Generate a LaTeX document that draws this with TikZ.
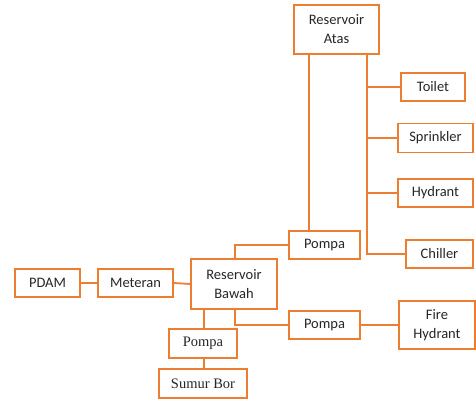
\documentclass[tikz,border=0pt]{standalone}
\usepackage{fontspec}
\setmainfont{Carlito}
\newfontfamily\serifb{Liberation Serif}
\definecolor{org}{HTML}{ED7D31}
\definecolor{txt}{HTML}{262626}
\begin{document}
\begin{tikzpicture}[x=1pt,y=-1pt,
  box/.style={draw=org,line width=1.8pt,fill=white,inner sep=0pt,align=center,text=txt,
    font=\fontsize{14.5}{19}\selectfont},
  sbox/.style={box,font=\serifb\fontsize{14.5}{19}\selectfont},
  conn/.style={draw=org,line width=1.8pt}]
\useasboundingbox (0,0) rectangle (476,401);
\node[box,minimum width=85pt,minimum height=49pt] (atas) at (336.5,29.5) {Reservoir\\Atas};
\node[box,minimum width=64pt,minimum height=28pt] (toilet) at (433,87) {Toilet};
\node[box,minimum width=75pt,minimum height=29pt] (spr) at (435.5,138) {Sprinkler};
\node[box,minimum width=75pt,minimum height=28pt] (hyd) at (435.5,193) {Hydrant};
\node[box,minimum width=67pt,minimum height=28pt] (chil) at (439.5,254) {Chiller};
\node[box,minimum width=71pt,minimum height=28pt] (p1) at (324.5,245) {Pompa};
\node[box,minimum width=65pt,minimum height=28pt] (pdam) at (47.5,283) {PDAM};
\node[box,minimum width=75pt,minimum height=28pt] (met) at (135.5,283) {Meteran};
\node[box,minimum width=86pt,minimum height=50pt] (bawah) at (234,284) {Reservoir\\Bawah};
\node[box,minimum width=71pt,minimum height=28pt] (p2) at (324.5,325) {Pompa};
\node[box,minimum width=76pt,minimum height=48pt] (fire) at (437,325) {Fire\\Hydrant};
\node[sbox,minimum width=68pt,minimum height=29pt] (p3) at (203,343.5) {Pompa};
\node[sbox,minimum width=88pt,minimum height=29pt] (sumur) at (203,383.5) {Sumur Bor};
\coordinate (xa) at (309,0);
\coordinate (xb) at (367,0);
\coordinate (xc) at (235,0);
\coordinate (xd) at (204,0);
\draw[conn] (atas.south -| xa) -- (p1.north -| xa);
\draw[conn] (atas.south -| xb) |- (chil.west);
\draw[conn] (toilet.west -| xb) -- (toilet.west);
\draw[conn] (spr.west -| xb) -- (spr.west);
\draw[conn] (hyd.west -| xb) -- (hyd.west);
\draw[conn] (bawah.north -| xc) |- (p1.west);
\draw[conn] (bawah.south -| xc) |- (p2.west);
\draw[conn] (p2.east) -- (fire.west);
\draw[conn] (pdam.east) -- (met.west);
\draw[conn] (met.east) -- (bawah.west);
\draw[conn] (bawah.south -| xd) -- (p3.north -| xd);
\draw[conn] (p3.south -| xd) -- (sumur.north -| xd);
\end{tikzpicture}
\end{document}
